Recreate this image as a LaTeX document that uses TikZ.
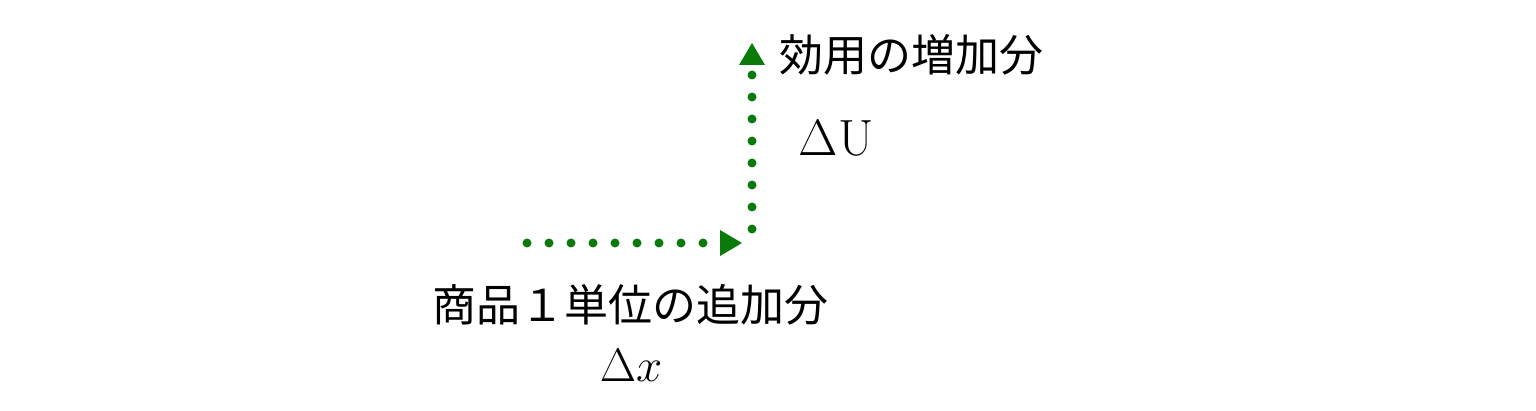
\RequirePackage{fix-cm}
\documentclass[tikz,border=0pt]{standalone}
\usepackage{fontspec}
\newfontfamily\jpfont{Noto Sans CJK JP}
\usetikzlibrary{arrows.meta}
\definecolor{arrowgreen}{RGB}{10,122,10}
\tikzset{
  dotarrow/.style={arrowgreen, line width=9pt, line cap=round,
    dash pattern=on 0pt off 22pt,
    -{Triangle[length=22pt,width=26pt,line width=0pt]}},
  jplabel/.style={inner sep=0pt, font=\jpfont\fontsize{44}{50}\selectfont},
  mathlabel/.style={inner sep=0pt}
}
\begin{document}
\begin{tikzpicture}[x=1pt,y=1pt]
\useasboundingbox (0,0) rectangle (1536,410);
\coordinate (h1) at (527,167);
\coordinate (h2) at (742,167);
\coordinate (v1) at (752,181);
\coordinate (v2) at (752,367);
\draw[dotarrow] (h1) -- (h2);
\draw[dotarrow] (v1) -- (v2);
\node[jplabel, anchor=west] (top) at (779,355) {効用の増加分};
\node[mathlabel] (du) at (836,272) {\fontsize{51}{60}\selectfont$\Delta\mathrm{U}$};
\node[jplabel] (bottom) at (630,105) {商品１単位の追加分};
\node[mathlabel] (dx) at (631,45) {\fontsize{47}{56}\selectfont$\Delta x$};
\end{tikzpicture}
\end{document}
